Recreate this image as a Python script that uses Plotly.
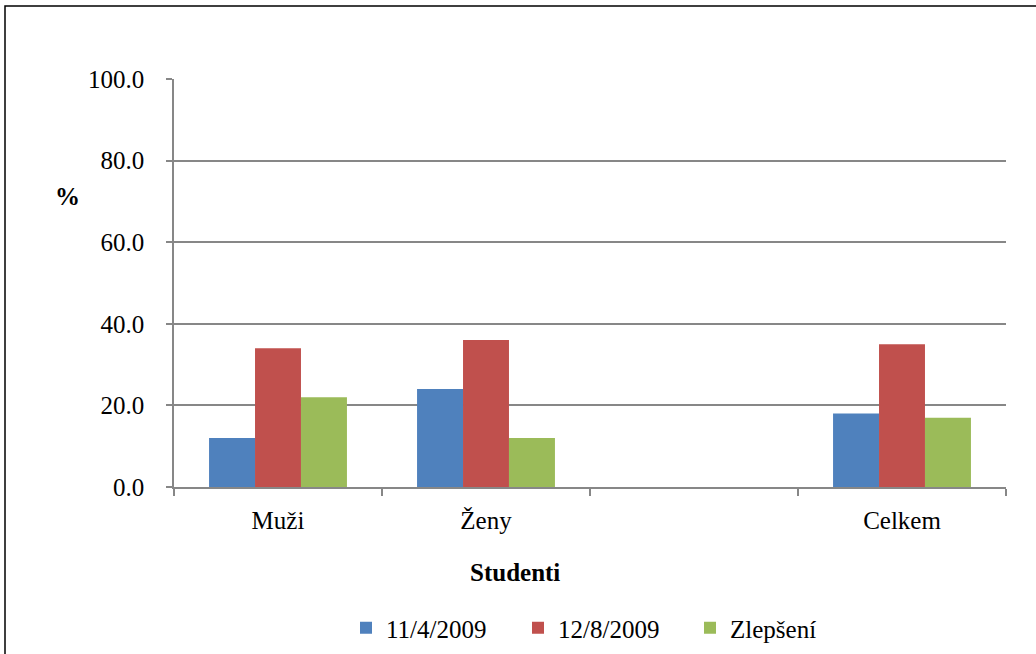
import plotly.graph_objects as go

categories = ["Muži", "Ženy", " ", "Celkem"]
series_names = ["11/4/2009", "12/8/2009", "Zlepšení"]
v_2009_04 = [12, 24, None, 18]
v_2009_08 = [34, 36, None, 35]
v_improve = [22, 12, None, 17]
colors = ["#4F81BD", "#C0504D", "#9BBB59"]
y_ticks = [0, 20, 40, 60, 80, 100]

FONT = "Liberation Serif"
FS = 25
W, H = 1036, 654
L, R, T, B = 174, 30, 79, 167
pw, ph = W - L - R, H - T - B

def px_x(p):
    return (p - L) / pw

def px_y(p):
    return (H - B - p) / ph

fig = go.Figure()
for name, vals, c in zip(series_names, [v_2009_04, v_2009_08, v_improve], colors):
    fig.add_trace(go.Bar(x=categories, y=vals, name=name, marker=dict(color=c, line=dict(width=0))))

fig.update_layout(
    width=W, height=H,
    margin=dict(l=L, r=R, t=T, b=B, autoexpand=False),
    paper_bgcolor="white", plot_bgcolor="white",
    barmode="group", bargap=0.337, bargroupgap=0,
    font=dict(family=FONT, size=FS, color="black"),
    showlegend=True,
    legend=dict(orientation="h", x=px_x(346), xanchor="left", y=px_y(628), yanchor="middle",
                font=dict(family=FONT, size=FS), entrywidth=127, entrywidthmode="pixels",
                itemwidth=30, bgcolor="rgba(0,0,0,0)"),
    xaxis=dict(type="category", categoryorder="array", categoryarray=categories, automargin=False,
               showline=True, linecolor="#878787", linewidth=1.5,
               ticks="outside", tickson="boundaries", ticklen=7, tickcolor="#878787", tickwidth=1.5,
               showgrid=False, tickfont=dict(family=FONT, size=FS), ticklabelstandoff=10),
    yaxis=dict(range=[0, 100], tickvals=y_ticks, tickformat=".1f", automargin=False,
               showline=True, linecolor="#878787", linewidth=1.5,
               ticks="outside", ticklen=6, tickcolor="#878787", tickwidth=1.5,
               showgrid=True, gridcolor="#878787", gridwidth=1.5, zeroline=False,
               tickfont=dict(family=FONT, size=FS), ticklabelstandoff=17),
    annotations=[
        dict(text="<b>%</b>", xref="paper", yref="paper", x=px_x(67), y=px_y(196),
             xanchor="center", yanchor="middle", showarrow=False, font=dict(family=FONT, size=FS)),
        dict(text="<b>Studenti</b>", xref="paper", yref="paper", x=px_x(515), y=px_y(572),
             xanchor="center", yanchor="middle", showarrow=False, font=dict(family=FONT, size=FS)),
    ],
    shapes=[
        dict(type="rect", xref="paper", yref="paper", x0=px_x(5), x1=px_x(1045), y0=px_y(665), y1=px_y(6),
             line=dict(color="black", width=1.5), fillcolor="rgba(0,0,0,0)", layer="below"),
    ],
)

fig.write_html("out.html", config={"displayModeBar": False},
               post_script="document.body.style.margin='0';document.body.style.overflow='hidden';")
